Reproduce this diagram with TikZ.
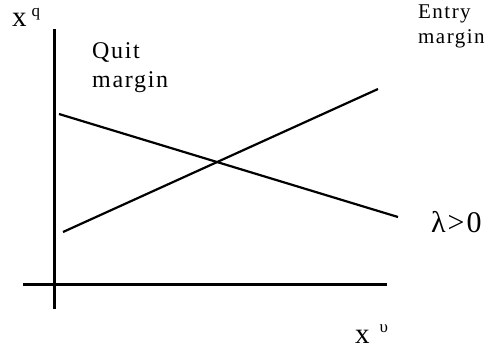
\documentclass[tikz,border=0pt]{standalone}
\usepackage{fontspec}
\setmainfont{Liberation Serif}
\newfontfamily\spaced[LetterSpace=7]{Liberation Serif}
\begin{document}
\begin{tikzpicture}[x=1pt,y=-1pt,
  axis/.style={line width=3pt},
  curve/.style={line width=2.2pt},
  lbl/.style={inner sep=0pt,anchor=base west,align=left}]
\useasboundingbox (0,0) rectangle (489,349);
% axes
\coordinate (ytop) at (54.5,29);
\coordinate (ybot) at (54.5,309);
\coordinate (xl) at (23,284.5);
\coordinate (xr) at (387,284.5);
\draw[axis] (ytop) -- (ybot);
\draw[axis] (xl) -- (xr);
% lines
\coordinate (q1) at (59,114);
\coordinate (q2) at (398,217);
\coordinate (e1) at (63,232);
\coordinate (e2) at (378,89);
\draw[curve] (q1) -- (q2);
\draw[curve] (e1) -- (e2);
% labels
\node[lbl] (xq) at (12,26) {\fontsize{29}{29}\selectfont x\hspace{5pt}\raisebox{10pt}{\fontsize{17}{17}\selectfont q}};
\node[lbl] (xu) at (355,343) {\fontsize{29}{29}\selectfont x\hspace{10pt}\raisebox{11pt}{\fontsize{17}{17}\selectfont υ}};
\node[lbl,anchor=north west,font={\spaced\fontsize{24}{29}\selectfont}] (quit) at (92,42.5) {Quit\\margin};
\node[lbl,anchor=north west,font={\spaced\fontsize{21}{25}\selectfont}] (entry) at (418,5) {Entry\\margin};
\node[lbl] (lam) at (431,232) {\fontsize{30}{30}\selectfont λ\hspace{2pt}>\hspace{2pt}0};
\end{tikzpicture}
\end{document}
